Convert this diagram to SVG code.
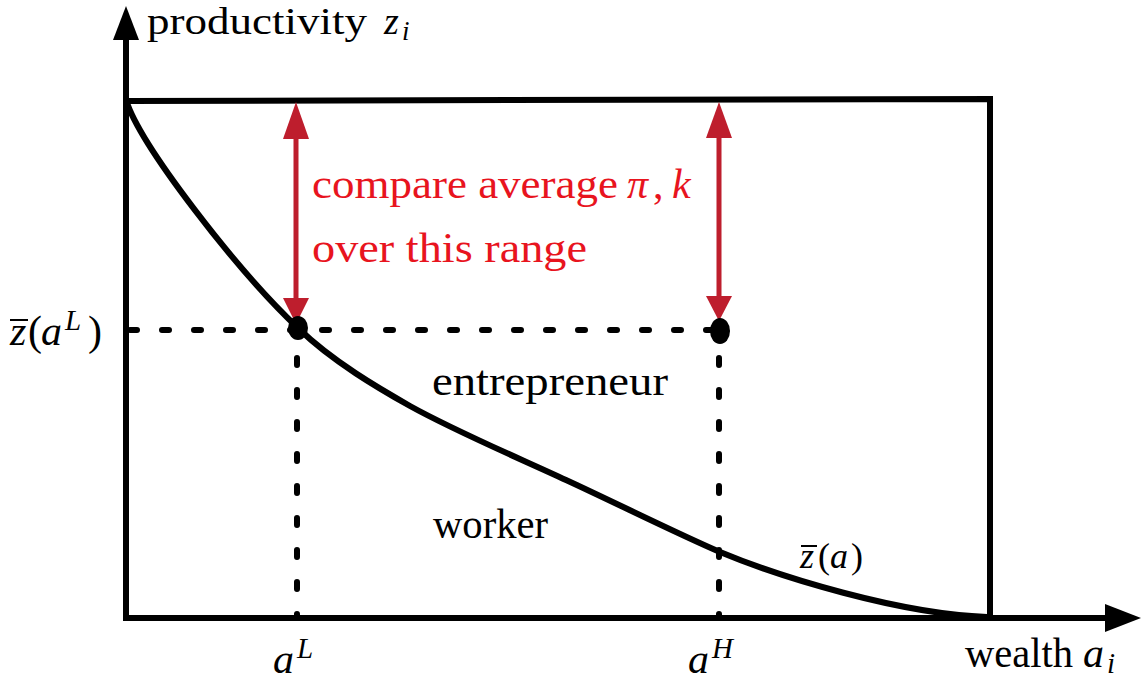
<svg xmlns="http://www.w3.org/2000/svg" width="1142" height="681" viewBox="0 0 1142 681">
<style>
text{font-family:"Liberation Serif","DejaVu Serif","Noto Serif",serif;font-size:42px;fill:#000}
.m{font-style:italic}
.red{fill:#E8141E}
.sup{font-size:29px}
.sm{font-size:36px}
.ax{stroke:#000;stroke-width:6;fill:none}
.dash{stroke:#000;stroke-width:6;fill:none;stroke-linecap:round;stroke-dasharray:7 25}
.ra{stroke:#BE1E2D;stroke-width:5;fill:none}
.ov{stroke:#000;stroke-width:2}
</style>
<rect width="1142" height="681" fill="#fff"/>
<g id="connectors">
  <line class="ax" x1="126" y1="621" x2="126" y2="36"/>
  <polygon points="126,6 113,40 139,40" fill="#000"/>
  <line class="ax" x1="123" y1="618" x2="1108" y2="618"/>
  <polygon points="1141,618 1105,604 1105,632" fill="#000"/>
  <polyline class="ax" points="126,101 990,99 990,618"/>
  <path class="ax" d="M126,100 C140,145 235,268 298,328 C333,362 380,389 410,406 C455,431 514,456 566,480 C618,504 678,534 720,552 C780,577 900,614 987,617"/>
  <line class="dash" x1="130" y1="330" x2="712" y2="330"/>
  <line class="dash" x1="297" y1="358" x2="297" y2="615"/>
  <line class="dash" x1="719" y1="358" x2="719" y2="615"/>
  <line class="ra" x1="296" y1="135" x2="296" y2="300"/>
  <polygon points="296,102 283,139 309,139" fill="#BE1E2D"/>
  <polygon points="296,324 283,298 309,298" fill="#BE1E2D"/>
  <line class="ra" x1="719" y1="135" x2="719" y2="298"/>
  <polygon points="719,102 706,138 732,138" fill="#BE1E2D"/>
  <polygon points="719,321 706,296 732,296" fill="#BE1E2D"/>
</g>
<g id="dotL"><ellipse cx="298" cy="328" rx="10" ry="12" fill="#000"/></g>
<g id="dotH"><ellipse cx="720" cy="331" rx="10" ry="13" fill="#000"/></g>
<g id="ylabel">
  <text x="147" y="34" style="font-size:38px" textLength="220" lengthAdjust="spacingAndGlyphs">productivity</text>
  <text class="m" x="384" y="34" style="font-size:38px">z</text>
  <text class="m sup" x="402" y="40" style="font-size:27px">i</text>
</g>
<g id="xlabel">
  <text x="965" y="667" textLength="108" lengthAdjust="spacingAndGlyphs">wealth</text>
  <text class="m" x="1083" y="667">a</text>
  <text class="m sup" x="1107" y="673">i</text>
</g>
<g id="note">
  <text class="red" x="312" y="198" textLength="306" lengthAdjust="spacingAndGlyphs">compare average</text>
  <text class="m red" x="627" y="198">π</text>
  <text class="red" x="653" y="198">,</text>
  <text class="m red" x="672" y="198">k</text>
  <text class="red" x="312" y="262" textLength="275" lengthAdjust="spacingAndGlyphs">over this range</text>
</g>
<g id="entrepreneur"><text x="432" y="395" textLength="236" lengthAdjust="spacingAndGlyphs">entrepreneur</text></g>
<g id="worker"><text x="433" y="538" textLength="115" lengthAdjust="spacingAndGlyphs">worker</text></g>
<g id="zbarL">
  <line class="ov" x1="10" y1="320" x2="28" y2="320"/>
  <text class="m" x="10" y="345">z</text>
  <text x="28" y="345">(</text>
  <text class="m" x="41" y="345">a</text>
  <text class="m sup" x="65" y="330">L</text>
  <text x="88" y="345">)</text>
</g>
<g id="zbar">
  <line class="ov" x1="801" y1="546" x2="817" y2="546"/>
  <text class="m sm" x="800" y="568">z</text>
  <text class="sm" x="818" y="568">(</text>
  <text class="m sm" x="830" y="568">a</text>
  <text class="sm" x="851" y="568">)</text>
</g>
<g id="aL">
  <text class="m" x="273" y="673">a</text>
  <text class="m sup" x="297" y="658">L</text>
</g>
<g id="aH">
  <text class="m" x="688" y="673">a</text>
  <text class="m sup" x="712" y="658">H</text>
</g>
</svg>
